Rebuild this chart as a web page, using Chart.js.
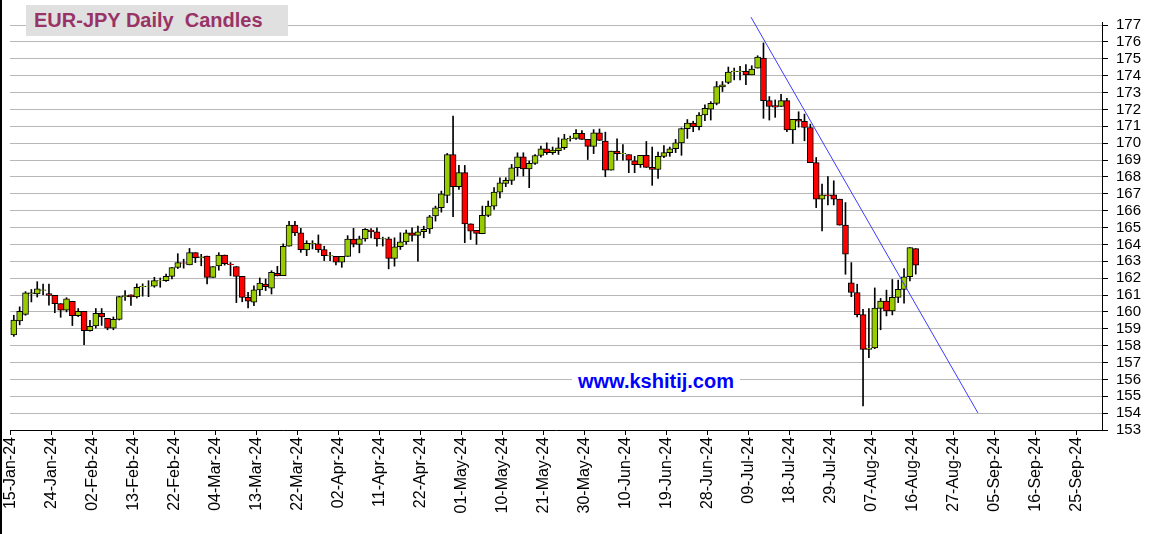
<!DOCTYPE html>
<html>
<head>
<meta charset="utf-8">
<script src="https://cdn.jsdelivr.net/npm/chart.js@4.4.1/dist/chart.umd.min.js"></script>
<style>
html, body { margin: 0; padding: 0; background: #fff; }
#wrap { position: relative; width: 1151px; height: 534px; overflow: hidden; }
#title {
    position: absolute; left: 26px; top: 5px; width: 262px; height: 31px;
    background: #e0e0e0; color: #993366; box-sizing: border-box; padding-left: 8px;
    font: bold 20px "Liberation Sans", Arial, sans-serif; line-height: 31px; white-space: pre;
}
#site {
    position: absolute; left: 572px; top: 370px; background: #fff; color: #0000ff;
    font: bold 20px "Liberation Sans", Arial, sans-serif; line-height: 22px; padding: 0 6px;
}
#edge { position: absolute; left: 0; top: 0; width: 2px; height: 534px; background: #000; }
</style>
</head>
<body>
<div id="wrap">
    <canvas id="candle-chart" width="1151" height="534"></canvas>
    <div id="title">EUR-JPY Daily  Candles</div>
    <div id="site">www.kshitij.com</div>
    <div id="edge"></div>
</div>
<script>
//EUR-JPY DAILY CANDLES (one entry per weekday from 15-Jan-24)
const tickLabels = ['15-Jan-24', '24-Jan-24', '02-Feb-24', '13-Feb-24', '22-Feb-24', '04-Mar-24',
    '13-Mar-24', '22-Mar-24', '02-Apr-24', '11-Apr-24', '22-Apr-24', '01-May-24', '10-May-24',
    '21-May-24', '30-May-24', '10-Jun-24', '19-Jun-24', '28-Jun-24', '09-Jul-24', '18-Jul-24',
    '29-Jul-24', '07-Aug-24', '16-Aug-24', '27-Aug-24', '05-Sep-24', '16-Sep-24', '25-Sep-24'];

const priceTicks = [153, 154, 155, 156, 157, 158, 159, 160, 161, 162, 163, 164, 165,
    166, 167, 168, 169, 170, 171, 172, 173, 174, 175, 176, 177];

const open = [158.63, 159.46, 159.85, 161.08, 161.07, 161.27, 161.09, 160.98, 160.49, 160.10,
    160.63, 159.77, 160.03, 158.88, 159.17, 159.91, 159.62, 159.04, 159.56, 160.90,
    161.01, 160.88, 161.50, 161.52, 161.52, 161.85, 161.85, 162.10, 162.63, 162.90,
    162.79, 163.51, 163.22, 163.31, 162.05, 162.73, 163.37, 162.83, 162.69, 162.11,
    160.86, 160.57, 161.30, 161.65, 161.40, 162.29, 162.15, 163.89, 165.15, 164.68,
    163.67, 164.04, 164.03, 163.69, 163.31, 163.29, 162.94, 163.29, 164.31, 164.00,
    164.33, 164.85, 164.75, 164.32, 164.33, 163.17, 163.86, 164.15, 164.69, 164.53,
    164.75, 164.92, 165.68, 166.17, 166.90, 169.33, 167.42, 168.25, 165.22, 164.83,
    164.63, 165.72, 166.27, 167.10, 167.61, 167.79, 168.54, 169.19, 168.48, 168.80,
    169.27, 169.67, 169.43, 169.55, 169.73, 170.26, 170.28, 170.58, 170.22, 169.81,
    170.61, 170.12, 168.40, 169.53, 169.38, 169.32, 168.95, 168.73, 169.28, 168.56,
    168.44, 169.22, 169.44, 169.67, 170.02, 170.86, 171.19, 170.98, 171.67, 172.01,
    172.36, 173.33, 173.60, 174.24, 174.24, 174.25, 174.05, 174.45, 175.04, 172.52,
    172.23, 172.17, 172.52, 170.78, 171.41, 171.30, 170.93, 168.85, 166.68, 166.93,
    166.93, 166.68, 165.14, 161.72, 161.15, 159.84, 157.78, 157.86, 160.21, 160.64,
    160.06, 160.86, 161.33, 162.08, 163.75];

const high = [159.80, 160.30, 161.20, 161.33, 161.79, 161.65, 161.65, 160.98, 160.49, 160.84,
    160.63, 160.20, 160.03, 159.50, 160.20, 160.20, 159.62, 159.70, 160.92, 161.27,
    161.01, 161.66, 161.66, 161.85, 162.05, 162.01, 162.24, 162.63, 163.45, 163.12,
    163.76, 163.51, 163.41, 163.31, 162.69, 163.51, 163.37, 162.92, 162.69, 162.11,
    161.16, 161.55, 162.01, 161.95, 162.44, 162.70, 164.03, 165.37, 165.37, 164.95,
    164.22, 164.22, 164.56, 163.89, 163.53, 163.29, 163.29, 164.52, 164.95, 164.49,
    164.94, 164.94, 164.98, 164.43, 164.43, 164.39, 164.69, 164.85, 164.98, 165.08,
    165.08, 165.72, 166.27, 167.16, 169.39, 171.60, 168.68, 168.68, 165.22, 164.83,
    166.27, 166.57, 167.36, 167.95, 167.95, 168.74, 169.43, 169.43, 168.94, 169.33,
    169.83, 170.02, 169.77, 170.32, 170.52, 170.42, 170.81, 170.74, 170.22, 170.80,
    170.84, 170.65, 169.53, 170.26, 169.92, 169.32, 169.22, 169.28, 170.10, 169.77,
    169.47, 169.86, 169.77, 170.22, 170.90, 171.40, 171.30, 171.81, 172.27, 172.46,
    173.65, 173.65, 174.51, 174.45, 174.55, 174.65, 174.59, 175.18, 175.94, 172.76,
    172.56, 172.90, 172.66, 171.41, 171.86, 171.72, 171.13, 169.15, 167.57, 168.02,
    167.77, 166.68, 166.48, 162.92, 161.64, 160.15, 160.20, 161.42, 160.80, 161.29,
    161.92, 161.88, 162.57, 163.81, 163.75];

const low = [158.55, 159.23, 159.80, 160.59, 160.88, 161.00, 160.40, 159.95, 159.68, 160.00,
    159.19, 159.72, 158.05, 158.85, 159.04, 159.20, 158.94, 158.94, 159.52, 160.68,
    160.39, 160.82, 160.93, 160.90, 161.46, 161.46, 161.81, 161.95, 162.57, 162.59,
    162.79, 162.92, 162.73, 161.66, 162.05, 162.47, 162.77, 162.14, 160.55, 160.60,
    160.23, 160.37, 160.96, 161.26, 161.06, 162.13, 162.15, 163.89, 164.52, 163.53,
    163.33, 163.73, 163.53, 163.04, 163.04, 162.78, 162.64, 163.29, 163.85, 163.50,
    164.19, 164.39, 163.90, 163.90, 162.55, 162.71, 163.70, 164.00, 164.19, 163.00,
    164.39, 164.65, 165.38, 165.91, 166.47, 165.64, 167.26, 164.10, 164.29, 164.00,
    164.63, 165.64, 166.07, 166.76, 167.42, 167.55, 168.05, 168.05, 167.36, 168.74,
    169.17, 169.33, 169.33, 169.33, 169.63, 170.12, 170.22, 170.22, 169.03, 169.38,
    170.16, 168.01, 168.40, 168.99, 168.99, 168.25, 168.25, 168.56, 168.56, 167.50,
    167.91, 169.14, 169.22, 169.44, 169.28, 170.28, 170.68, 170.78, 171.33, 171.37,
    172.27, 173.06, 173.52, 173.75, 173.75, 173.46, 174.05, 174.45, 171.47, 171.37,
    171.53, 172.17, 170.68, 169.98, 170.95, 170.14, 168.85, 166.18, 164.80, 166.34,
    166.34, 165.14, 162.23, 160.90, 159.70, 154.43, 157.28, 157.82, 158.94, 159.76,
    159.82, 160.55, 160.51, 161.84, 162.24];

const close = [159.52, 160.03, 161.13, 161.13, 161.36, 161.30, 160.98, 160.49, 160.10, 160.78,
    159.77, 160.03, 158.88, 159.14, 159.91, 159.70, 159.04, 159.56, 160.90, 160.97,
    160.88, 161.46, 161.52, 161.53, 161.85, 161.86, 162.10, 162.63, 162.92, 162.88,
    163.51, 163.22, 163.27, 162.05, 162.69, 163.37, 162.86, 162.80, 162.10, 160.86,
    160.63, 161.30, 161.71, 161.50, 162.35, 162.13, 163.89, 165.15, 164.68, 163.69,
    164.06, 164.07, 163.69, 163.33, 163.34, 162.94, 163.29, 164.31, 164.02, 164.33,
    164.89, 164.75, 164.33, 164.35, 163.17, 163.86, 164.15, 164.69, 164.53, 164.75,
    164.89, 165.64, 166.17, 167.00, 169.33, 167.42, 168.25, 165.22, 164.79, 164.65,
    165.72, 166.27, 167.10, 167.65, 167.79, 168.54, 169.19, 168.48, 168.80, 169.27,
    169.67, 169.43, 169.59, 169.73, 170.26, 170.29, 170.58, 170.22, 169.81, 170.61,
    170.16, 168.40, 169.53, 169.38, 169.40, 168.99, 168.73, 169.28, 168.56, 168.44,
    169.22, 169.44, 169.67, 170.02, 170.86, 171.19, 170.98, 171.67, 172.07, 172.36,
    173.36, 173.46, 174.21, 174.27, 174.27, 174.05, 174.39, 175.10, 172.52, 172.17,
    172.13, 172.52, 170.78, 171.41, 171.30, 170.93, 168.85, 166.68, 166.93, 166.88,
    166.68, 165.14, 163.42, 161.15, 159.84, 157.78, 157.86, 160.23, 160.64, 160.06,
    160.86, 161.33, 162.08, 163.81, 162.77];

// trend line end points (x = weekday index, y = price)
const trendX = [126.36, 165.12];
const trendY = [177.47, 154.01];

const bodies = open.map((o, i) => ({ x: i + 0.5, y: [o, close[i]] }));
const wicks = open.map((o, i) => ({ x: i + 0.5, y: [low[i], high[i]] }));
const colours = open.map((o, i) => close[i] >= o ? '#99cc00' : '#ff0000');
const trend = trendX.map((x, i) => ({ x: x, y: trendY[i] }));

const tickFont = { family: '"Liberation Sans", Arial, sans-serif' };

const candleChart = new Chart(document.getElementById('candle-chart'), {
    type: 'bar',
    data: {
        datasets: [
            {
                type: 'line',
                data: trend,
                borderColor: '#3c3cff',
                borderWidth: 1,
                pointRadius: 0,
                clip: false,
                order: 0,
            },
            {
                data: bodies,
                backgroundColor: colours,
                borderColor: '#000',
                borderWidth: 1,
                borderSkipped: false,
                barThickness: 6,
                grouped: false,
                order: 1,
            },
            {
                data: wicks,
                backgroundColor: '#000',
                borderWidth: 0,
                barThickness: 1,
                grouped: false,
                order: 2,
            },
        ]
    },
    options: {
        responsive: false,
        animation: false,
        layout: { padding: { top: 22, left: 10, right: 0, bottom: 0 } },
        plugins: {
            legend: { display: false },
            tooltip: { enabled: false },
        },
        scales: {
            x: {
                type: 'linear',
                min: -0.15,
                max: 186.3,
                offset: false,
                grid: { offset: false, drawOnChartArea: false, tickLength: 5, tickColor: '#000' },
                border: { color: '#000' },
                ticks: {
                    autoSkip: false,
                    maxRotation: 90,
                    minRotation: 90,
                    padding: 2,
                    color: '#000',
                    font: { ...tickFont, size: 16 },
                    callback: (v) => tickLabels[Math.round(v / 7)],
                },
                afterBuildTicks: (s) => { s.ticks = tickLabels.map((l, k) => ({ value: k * 7 })); },
                afterFit: (s) => { s.height = 104; },
            },
            y: {
                type: 'linear',
                position: 'right',
                min: 153,
                max: 177.18,
                grid: { color: '#b8b8b8', tickColor: '#000', tickLength: 6 },
                border: { color: '#000' },
                ticks: {
                    autoSkip: false,
                    padding: 8,
                    color: '#000',
                    font: { ...tickFont, size: 15 },
                },
                afterBuildTicks: (s) => { s.ticks = priceTicks.map(v => ({ value: v })); },
                afterFit: (s) => { s.width = 49; },
            }
        }
    }
});
</script>
</body>
</html>
